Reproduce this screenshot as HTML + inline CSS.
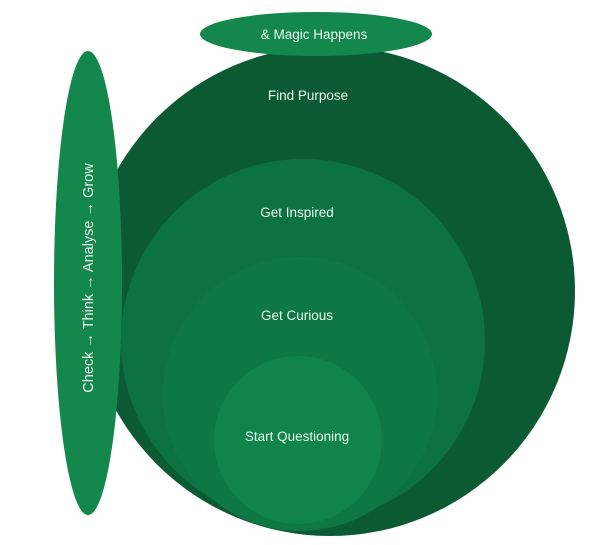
<!DOCTYPE html>
<html><head><style>html,body{margin:0;padding:0;background:#fff;}svg{display:block}</style></head>
<body>
<svg width="603" height="545" viewBox="0 0 603 545" xmlns="http://www.w3.org/2000/svg" font-family="Liberation Sans, sans-serif" font-size="13.5" fill="#eaf6ee">
<circle cx="330" cy="291" r="245" fill="#0b5a33"/>
<circle cx="303" cy="341" r="182" fill="#0d7241"/>
<circle cx="300" cy="394" r="137" fill="#0e7845"/>
<circle cx="298" cy="440" r="84" fill="#10844b"/>
<ellipse cx="316" cy="34" rx="116" ry="22" fill="#13874c"/>
<ellipse cx="88" cy="283" rx="34" ry="232" fill="#13874c"/>
<g fill="#eaf6ee" text-anchor="middle">
<text x="314" y="39">&amp; Magic Happens</text>
<text x="308" y="100">Find Purpose</text>
<text x="297" y="217">Get Inspired</text>
<text x="297" y="320">Get Curious</text>
<text x="297" y="441">Start Questioning</text>
<text font-size="14.5" transform="translate(93,278) rotate(-90)">Check → Think → Analyse → Grow</text>
</g>
</svg>
</body></html>
